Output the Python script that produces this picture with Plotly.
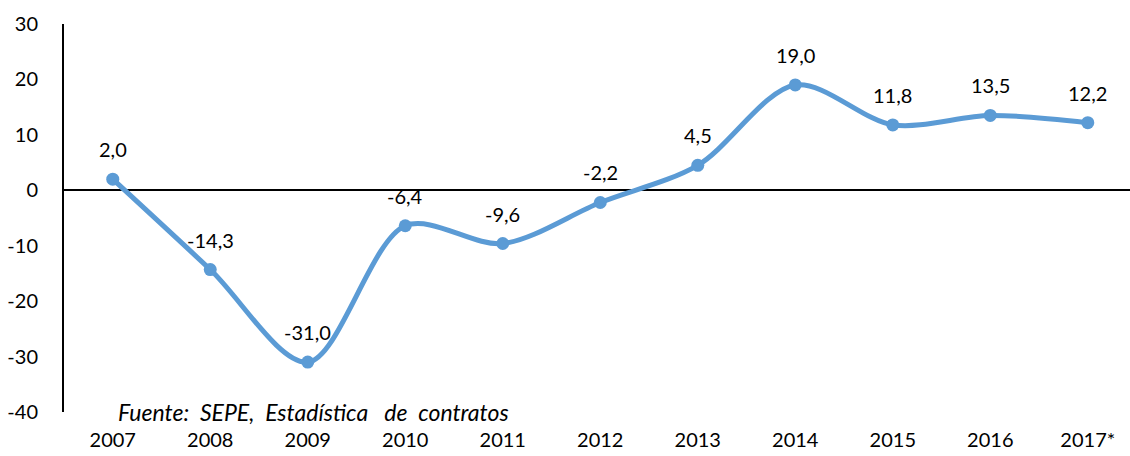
import plotly.graph_objects as go

years = ["2007", "2008", "2009", "2010", "2011", "2012", "2013", "2014", "2015", "2016", "2017*"]
values = [2.0, -14.3, -31.0, -6.4, -9.6, -2.2, 4.5, 19.0, 11.8, 13.5, 12.2]
labels = ["2,0", "-14,3", "-31,0", "-6,4", "-9,6", "-2,2", "4,5", "19,0", "11,8", "13,5", "12,2"]
y_ticks = [-40, -30, -20, -10, 0, 10, 20, 30]
y_tick_text = ["-40", "-30", "-20", "-10", "0", "10", "20", "30"]

xs = list(range(len(years)))
FONT = "Lato"
COLOR = "#5B9BD5"

W, H = 1130, 456
L, R, T, B = 64, 0, 24, 44
pw, ph = W - L - R, H - T - B

fig = go.Figure()
fig.add_trace(go.Scatter(
    x=xs, y=values, mode="lines+markers",
    line=dict(color=COLOR, width=5, shape="spline", smoothing=0.9),
    marker=dict(color=COLOR, size=13),
    hoverinfo="skip", showlegend=False, cliponaxis=False,
))

for x, v, t in zip(xs, values, labels):
    fig.add_annotation(x=x, y=v, text=t, showarrow=False, yshift=30,
                       font=dict(family=FONT, size=20, color="black"))

fig.add_annotation(x=(116 - L) / pw, y=(H - B - 412) / ph, xref="paper", yref="paper",
                   xanchor="left", yanchor="middle",
                   text="<i>Fuente:&nbsp; SEPE,&nbsp; Estadística&nbsp;&nbsp; de&nbsp; contratos</i>",
                   showarrow=False,
                   font=dict(family=FONT, size=23, color="black"))

fig.update_layout(
    width=W, height=H,
    margin=dict(l=L, r=R, t=T, b=B),
    paper_bgcolor="white", plot_bgcolor="white",
    font=dict(family=FONT, size=20, color="black"),
    xaxis=dict(range=[-0.5, 10.433], tickvals=xs, ticktext=years, showgrid=False,
               zeroline=False, showline=False, ticks="", ticklabelstandoff=14,
               automargin=False,
               tickfont=dict(family=FONT, size=20, color="black")),
    yaxis=dict(range=[-40, 30], tickvals=y_ticks, ticktext=y_tick_text, showgrid=False,
               zeroline=True, zerolinecolor="black", zerolinewidth=2,
               showline=True, linecolor="black", linewidth=2, ticks="",
               ticklabelstandoff=20, automargin=False,
               tickfont=dict(family=FONT, size=20, color="black")),
)

fig.write_html("out.html", config={"displayModeBar": False},
               post_script="document.body.style.margin='0';document.body.style.padding='0';document.body.style.overflow='hidden';")
